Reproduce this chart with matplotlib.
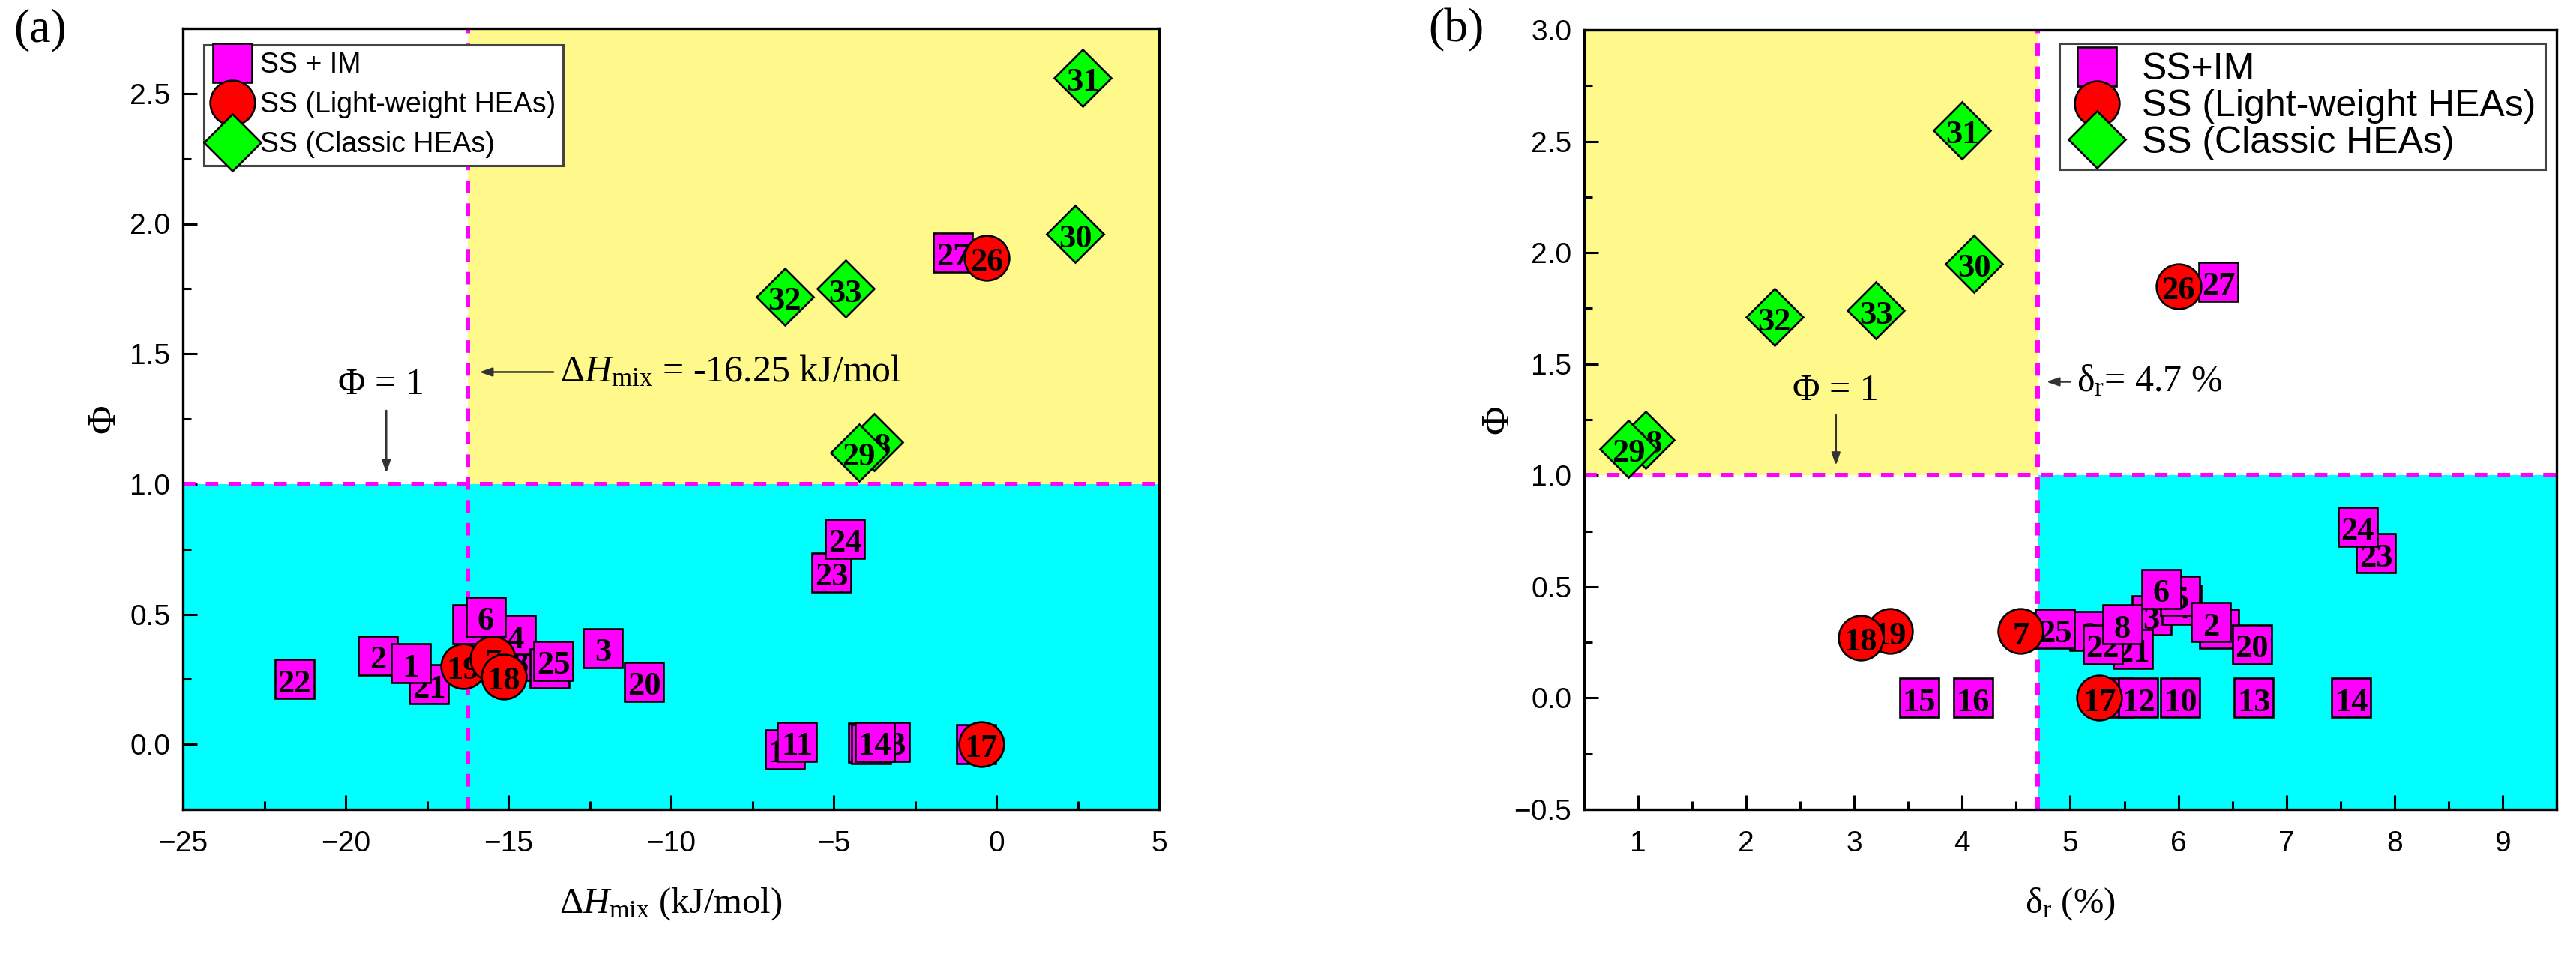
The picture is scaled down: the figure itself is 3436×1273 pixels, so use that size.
import matplotlib
matplotlib.use('Agg')
import matplotlib.pyplot as plt
from matplotlib.ticker import MultipleLocator
from matplotlib.lines import Line2D
from matplotlib.patches import Rectangle

plt.rcParams['mathtext.fontset'] = 'custom'
plt.rcParams['mathtext.rm'] = 'Liberation Serif'
plt.rcParams['mathtext.it'] = 'Liberation Serif:italic'
plt.rcParams['mathtext.bf'] = 'Liberation Serif:bold'

# ---------------- data ----------------
# SS + IM alloys
im_ids   = [1, 2, 3, 4, 5, 6, 8, 9, 10, 11, 12, 13, 14, 15, 16, 20, 21, 22, 23, 24, 25, 27]
im_dH    = [-18.0, -19.0, -12.1, -14.77, -16.1, -15.7, -14.65, -13.73, -0.62, -6.13, -6.5,
            -3.27, -3.73, -3.94, -3.85, -10.83, -17.44, -21.57, -5.07, -4.65, -13.62, -1.33]
im_phi_a = [0.31, 0.34, 0.37, 0.42, 0.46, 0.49, 0.32, 0.29, 0.0, 0.01, -0.02,
            0.01, 0.01, 0.005, 0.0, 0.24, 0.23, 0.25, 0.66, 0.79, 0.32, 1.89]
im_dr    = [6.38, 6.30, 5.75, 6.03, 6.02, 5.84, 5.48, 5.18, 6.02, 5.40, 5.63,
            6.70, 7.60, 3.60, 4.10, 6.68, 5.58, 5.30, 7.83, 7.66, 4.86, 6.37]
im_phi_b = [0.31, 0.34, 0.37, 0.42, 0.46, 0.49, 0.33, 0.30, 0.0, 0.0, 0.0,
            0.0, 0.0, 0.0, 0.0, 0.24, 0.22, 0.24, 0.65, 0.77, 0.31, 1.87]

# SS light-weight HEAs
lw_ids   = [19, 7, 18, 17, 26]
lw_dH    = [-16.38, -15.48, -15.14, -0.46, -0.29]
lw_phi_a = [0.30, 0.33, 0.26, 0.0, 1.87]
lw_dr    = [3.33, 4.54, 3.06, 5.27, 6.0]
lw_phi_b = [0.30, 0.30, 0.27, 0.0, 1.85]

# SS classic HEAs
cl_ids   = [28, 29, 30, 31, 32, 33]
cl_dH    = [-3.75, -4.22, 2.42, 2.65, -6.5, -4.64]
cl_phi_a = [1.16, 1.12, 1.96, 2.56, 1.72, 1.75]
cl_dr    = [1.07, 0.91, 4.11, 4.0, 2.26, 3.2]
cl_phi_b = [1.16, 1.12, 1.95, 2.55, 1.71, 1.74]

dH_crit = -16.25
dr_crit = 4.7
phi_crit = 1.0

legend_a = ['SS + IM', 'SS (Light-weight HEAs)', 'SS (Classic HEAs)']
legend_b = ['SS+IM', 'SS (Light-weight HEAs)', 'SS (Classic HEAs)']

# drawing order (later = on top) of the SS+IM squares in each panel
order_a = [21, 22, 20, 2, 1, 3, 8, 4, 5, 6, 9, 25, 12, 11, 15, 16, 13, 14, 10, 23, 24, 27]
order_b = [9, 1, 25, 3, 21, 22, 4, 5, 6, 8, 2, 20, 11, 12, 10, 13, 14, 15, 16, 23, 24, 27]

# ---------------- style ----------------
C_IM, C_LW, C_CL = '#FF00FF', '#FF0000', '#00FF00'
C_YEL, C_CYAN = '#FFF88A', '#00FFFF'
SERIF = 'Liberation Serif'
SANS = 'Liberation Sans'
W, H = 3437, 1273
MS_SQ, MS_O, MS_D = 38, 43, 39

fig = plt.figure(figsize=(W / 100, H / 100), dpi=100)
ax_a = fig.add_axes([244 / W, (H - 1080) / H, 1302 / W, 1042 / H])
ax_b = fig.add_axes([2113 / W, (H - 1080) / H, 1297 / W, 1040 / H])


def style_axes(ax, xlim, ylim, xmaj, xmin, ymaj, ymin):
    ax.set_xlim(*xlim)
    ax.set_ylim(*ylim)
    ax.xaxis.set_major_locator(MultipleLocator(xmaj))
    ax.xaxis.set_minor_locator(MultipleLocator(xmin))
    ax.yaxis.set_major_locator(MultipleLocator(ymaj))
    ax.yaxis.set_minor_locator(MultipleLocator(ymin))
    ax.tick_params(which='both', direction='in', top=False, right=False, width=2.2)
    ax.tick_params(which='major', length=14)
    ax.tick_params(which='minor', length=8)
    ax.tick_params(axis='x', which='major', pad=20)
    ax.tick_params(axis='y', which='major', pad=12)
    for sp in ax.spines.values():
        sp.set_linewidth(2.4)
    for lab in ax.get_xticklabels() + ax.get_yticklabels():
        lab.set_family(SANS)
        lab.set_fontsize(28)


def point(ax, x, y, lab, marker, color, ms, z):
    ax.plot([x], [y], marker=marker, ms=ms, mfc=color, mec='black', mew=1.9,
            ls='none', zorder=z, clip_on=False)
    ax.text(x, y - 0.006 * (ax.get_ylim()[1] - ax.get_ylim()[0]), str(lab),
            ha='center', va='center', fontsize=32, fontweight='bold',
            family=SERIF, zorder=z + 0.5)


def draw_points(ax, im_x, im_y, lw_x, lw_y, cl_x, cl_y, order):
    z = 10
    for pid in order:
        i = im_ids.index(pid)
        point(ax, im_x[i], im_y[i], pid, 's', C_IM, MS_SQ, z)
        z += 1
    for i, pid in enumerate(lw_ids):
        point(ax, lw_x[i], lw_y[i], pid, 'o', C_LW, MS_O, z)
        z += 1
    for i, pid in enumerate(cl_ids):
        point(ax, cl_x[i], cl_y[i], pid, 'D', C_CL, MS_D, z)
        z += 1


def dashed(ax, vx, hy):
    ax.axvline(vx, color=C_IM, lw=4.3, ls=(0, (2.8, 2.3)), zorder=2)
    ax.axhline(hy, color=C_IM, lw=4.3, ls=(0, (2.8, 2.3)), zorder=2)


def legend(ax, labels, fs, anchor, spacing, textpad):
    handles = [Line2D([], [], marker='s', ms=MS_SQ, mfc=C_IM, mec='k', mew=1.9, ls='none'),
               Line2D([], [], marker='o', ms=MS_O, mfc=C_LW, mec='k', mew=1.9, ls='none'),
               Line2D([], [], marker='D', ms=MS_D, mfc=C_CL, mec='k', mew=1.9, ls='none')]
    leg = ax.legend(handles, labels, loc='upper left', bbox_to_anchor=anchor,
                    borderaxespad=0, frameon=True, fancybox=False, framealpha=1,
                    edgecolor='#444444', prop={'family': SANS, 'size': fs},
                    labelspacing=spacing, handletextpad=textpad, borderpad=0.25,
                    handlelength=1.5)
    leg.get_frame().set_linewidth(2.2)
    leg.set_zorder(1000)


arrow_kw = dict(arrowstyle='-|>,head_length=1.0,head_width=0.35', color='#333333', lw=1.8)

# ---------------- panel (a) ----------------
style_axes(ax_a, (-25, 5), (-0.25, 2.75), 5, 2.5, 0.5, 0.25)
ax_a.add_patch(Rectangle((dH_crit, phi_crit), 5 - dH_crit, 2.75 - phi_crit,
                         facecolor=C_YEL, edgecolor='none', zorder=0))
ax_a.add_patch(Rectangle((-25, -0.25), 30, phi_crit + 0.25,
                         facecolor=C_CYAN, edgecolor='none', zorder=0))
dashed(ax_a, dH_crit, phi_crit)
draw_points(ax_a, im_dH, im_phi_a, lw_dH, lw_phi_a, cl_dH, cl_phi_a, order_a)
ax_a.set_xlabel('Δ$H_{\\rm mix}$ (kJ/mol)', family=SERIF, fontsize=35, labelpad=28)
ax_a.set_ylabel('Φ', family=SERIF, fontsize=38)
ax_a.yaxis.set_label_coords(-0.062, 0.5)
ax_a.text(-18.9, 1.38, 'Φ = 1', family=SERIF, fontsize=36, ha='center', va='center', zorder=50)
ax_a.annotate('', xy=(-18.75, 1.035), xytext=(-18.75, 1.29), arrowprops=arrow_kw, zorder=50)
ax_a.annotate('', xy=(-15.95, 1.43), xytext=(-13.55, 1.43), arrowprops=arrow_kw, zorder=50)
ax_a.text(-13.4, 1.43, 'Δ$H_{\\rm mix}$ = -16.25 kJ/mol', family=SERIF, fontsize=36,
          ha='left', va='center', zorder=50)
legend(ax_a, legend_a, 27, (28 / 1302, 1 - 22 / 1042), 0.45, 0.25)

# ---------------- panel (b) ----------------
style_axes(ax_b, (0.5, 9.5), (-0.5, 3.0), 1, 0.5, 0.5, 0.25)
ax_b.add_patch(Rectangle((0.5, phi_crit), dr_crit - 0.5, 3.0 - phi_crit,
                         facecolor=C_YEL, edgecolor='none', zorder=0))
ax_b.add_patch(Rectangle((dr_crit, -0.5), 9.5 - dr_crit, phi_crit + 0.5,
                         facecolor=C_CYAN, edgecolor='none', zorder=0))
dashed(ax_b, dr_crit, phi_crit)
draw_points(ax_b, im_dr, im_phi_b, lw_dr, lw_phi_b, cl_dr, cl_phi_b, order_b)
ax_b.set_xlabel('δ$_{\\rm r}$ (%)', family=SERIF, fontsize=35, labelpad=28)
ax_b.set_ylabel('Φ', family=SERIF, fontsize=38)
ax_b.yaxis.set_label_coords(-0.07, 0.5)
ax_b.text(2.83, 1.38, 'Φ = 1', family=SERIF, fontsize=36, ha='center', va='center', zorder=50)
ax_b.annotate('', xy=(2.83, 1.035), xytext=(2.83, 1.28), arrowprops=arrow_kw, zorder=50)
ax_b.annotate('', xy=(4.76, 1.42), xytext=(5.02, 1.42), arrowprops=arrow_kw, zorder=50)
ax_b.text(5.06, 1.42, 'δ$_{\\rm r}$= 4.7 %', family=SERIF, fontsize=36,
          ha='left', va='center', zorder=50)
legend(ax_b, legend_b, 36, (634 / 1297, 1 - 18 / 1040), 0.05, 0.45)

fig.text(18 / W, 1 - 40 / H, '(a)', family=SERIF, fontsize=46, ha='left', va='center')
fig.text(1905 / W, 1 - 40 / H, '(b)', family=SERIF, fontsize=46, ha='left', va='center')

fig.savefig('out.png', dpi=100)
